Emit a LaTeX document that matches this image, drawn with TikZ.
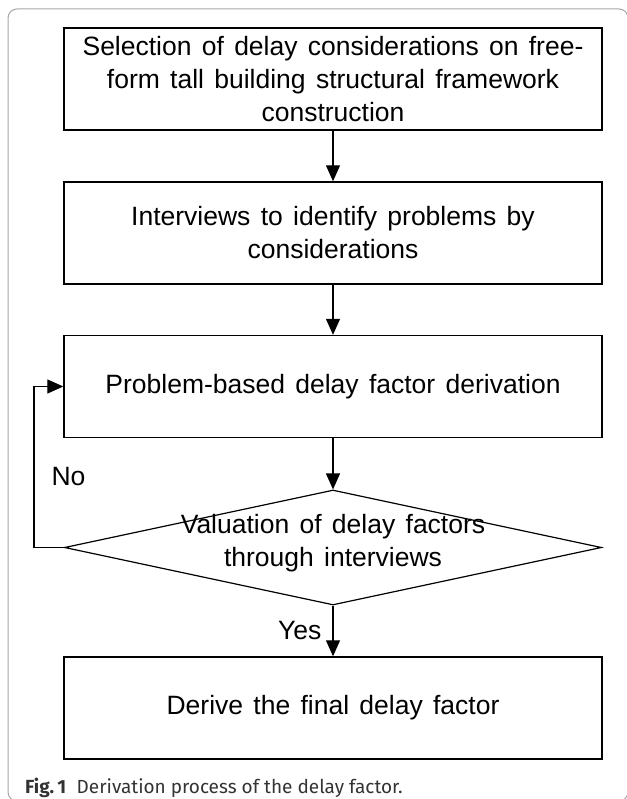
\documentclass[tikz,border=0pt]{standalone}
\usepackage{fontspec}
\setmainfont{Liberation Sans}
\newfontfamily\boxfont{Liberation Sans}[WordSpace=1.4]
\newfontfamily\capfont{Fira Sans}
\usetikzlibrary{arrows.meta,shapes.geometric}

\begin{document}
\begin{tikzpicture}[
  x=1pt, y=-1pt,
  stepbox/.style={draw, line width=1.4pt, align=center, inner sep=0pt,
                  minimum width=538pt, minimum height=102pt,
                  font=\boxfont\fontsize{26.5}{33}\selectfont},
  decision/.style={diamond, draw, line width=1.2pt, inner sep=0pt,
                   aspect=4.67, minimum width=537pt, minimum height=115pt},
  lbl/.style={font=\boxfont\fontsize{26.5}{33}\selectfont, inner sep=0pt},
  arr/.style={-{Triangle[length=16pt,width=14pt]}, line width=1.2pt}
]
\useasboundingbox (0,0) rectangle (626,799);
% outer frame, only its left and top edges fall inside the page
\draw[gray!70, line width=1pt, rounded corners=9pt] (8,9) rectangle (628,801);

% boxes on fixed rows, all 102pt tall with 52pt gaps
\node[stepbox] (select) at (333,79) {Selection of delay considerations on free-\\form tall building structural framework\\construction};
\node[stepbox] (interview) at (333,233) {Interviews to identify problems by\\considerations};
\node[stepbox] (derive) at (333,386.5) {Problem-based delay factor derivation};
% diamond kept empty so its size does not follow the text
\node[decision] (valuate) at (333,547.5) {};
\node[lbl, align=center] (valtext) at ([yshift=4pt]valuate.center) {Valuation of delay factors\\through interviews};
\node[stepbox] (final) at (333,708) {Derive the final delay factor};

\draw[arr] (select) -- (interview);
\draw[arr] (interview) -- (derive);
\draw[arr] (derive) -- (valuate);
\draw[arr] (valuate) -- node[lbl, pos=0.5, left=11pt] (yes) {Yes} (final);
% loop back when the valuation fails
\draw[arr] (valuate.west) -- ++(-30,0) coordinate (nocorner)
  |- node[lbl, pos=0.22, right=17pt] (no) {No} (derive.west);

\node[anchor=base west, inner sep=0pt, font=\capfont\fontsize{19}{22}\selectfont,
      text=black!80] (caption) at (25,793)
  {\textbf{Fig.\,1}\hspace{0.55em}Derivation process of the delay factor.};
\end{tikzpicture}
\end{document}
